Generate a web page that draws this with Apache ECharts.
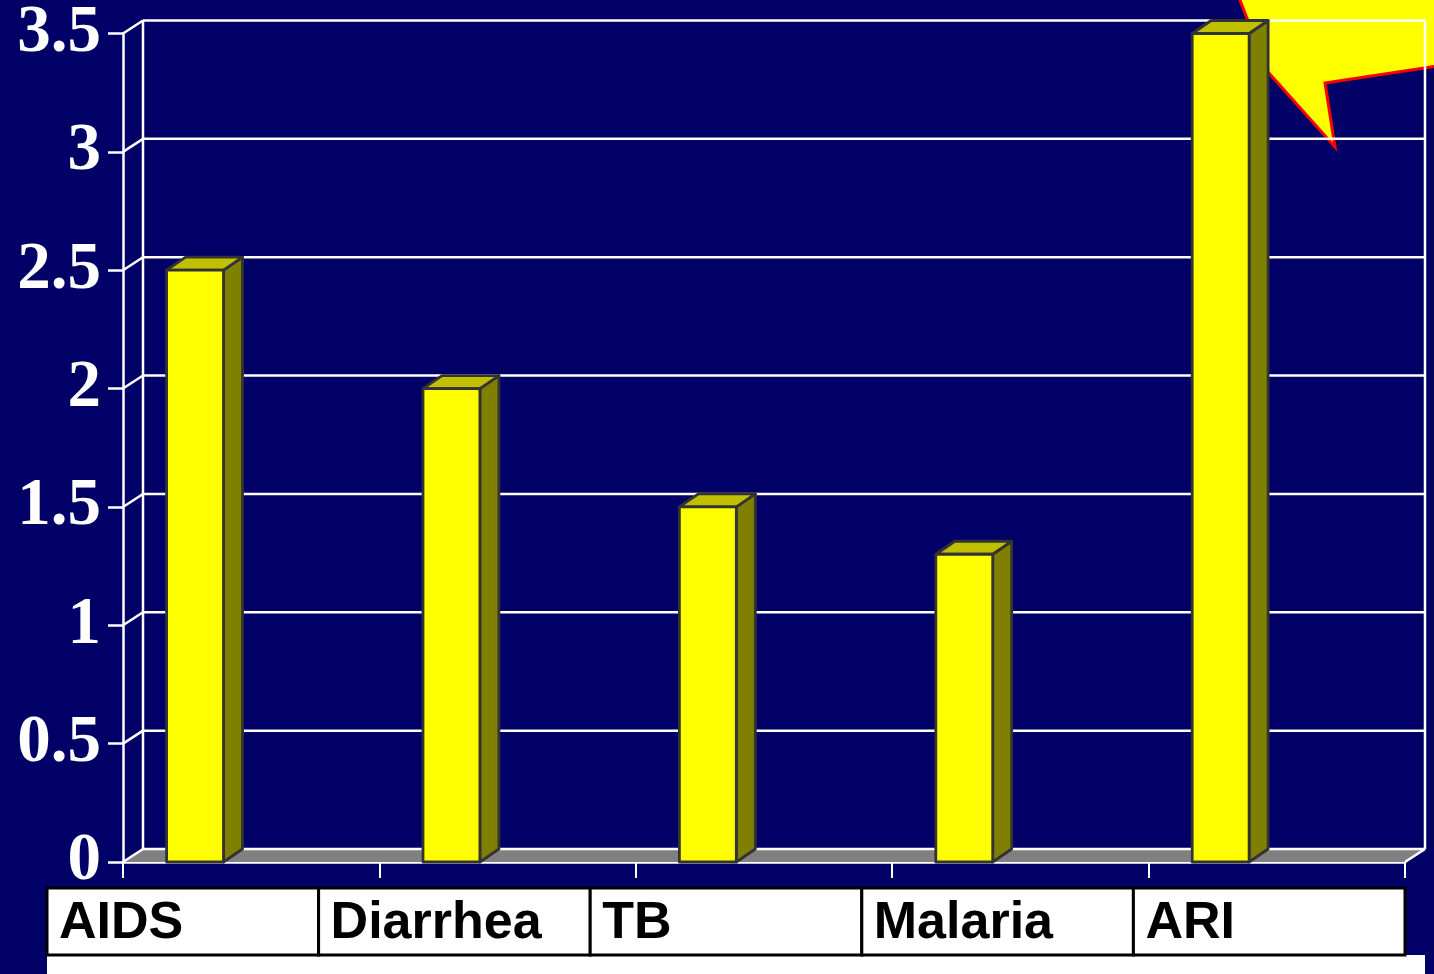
<!DOCTYPE html>
<html>
<head>
<meta charset="utf-8">
<script src="https://cdn.jsdelivr.net/npm/echarts@6/dist/echarts.min.js"></script>
<style>
  html, body { margin: 0; padding: 0; background: #000066; }
  #chart { width: 1434px; height: 974px; }
</style>
</head>
<body>
<div id="chart"></div>
<script>
// Disease categories and their values
const categories = ['AIDS', 'Diarrhea', 'TB', 'Malaria', 'ARI'];
const values = [2.5, 2.0, 1.5, 1.3, 3.5];
const yTicks = [0, 0.5, 1, 1.5, 2, 2.5, 3, 3.5];

// depth of the 3-D box walls and bars
const WALL_DX = 20, WALL_DY = -13;
const BAR_DX = 19, BAR_DY = -13;

const chart = echarts.init(document.getElementById('chart'));

// back wall, gridlines, connectors and floor
function renderWall(params, api) {
  const cs = params.coordSys;
  const v = api.value(1);
  const y = api.coord([0, v])[1];
  const x0 = cs.x, x1 = cs.x + cs.width;
  const white = { stroke: '#ffffff', lineWidth: 2.5 };
  const children = [
    { type: 'line', shape: { x1: x0, y1: y, x2: x0 + WALL_DX, y2: y + WALL_DY }, style: white },
    { type: 'line', shape: { x1: x0 + WALL_DX, y1: y + WALL_DY, x2: x1 + WALL_DX, y2: y + WALL_DY }, style: white }
  ];
  if (v === 0) {
    const yTop = cs.y;
    children.unshift({
      type: 'polygon',
      shape: { points: [[x0, y], [x1, y], [x1 + WALL_DX, y + WALL_DY], [x0 + WALL_DX, y + WALL_DY]] },
      style: { fill: '#808080' }
    });
    children.push(
      { type: 'line', shape: { x1: x0 + WALL_DX, y1: y + WALL_DY, x2: x0 + WALL_DX, y2: yTop + WALL_DY }, style: white },
      { type: 'line', shape: { x1: x1 + WALL_DX, y1: y + WALL_DY, x2: x1 + WALL_DX, y2: yTop + WALL_DY }, style: white },
      { type: 'line', shape: { x1: x1, y1: y, x2: x1 + WALL_DX, y2: y + WALL_DY }, style: white }
    );
  }
  return { type: 'group', children: children };
}

// 3-D bar: front face, side face and top face
function renderBar(params, api) {
  const idx = api.value(0);
  const v = api.value(1);
  const base = api.coord([idx, 0]);
  const top = api.coord([idx, v]);
  const band = api.size([1, 0])[0];
  const left = base[0] - band / 2 + band * 0.17;
  const w = band * 0.222;
  const edge = { stroke: '#333333', lineWidth: 2.8, lineJoin: 'round' };
  return {
    type: 'group',
    children: [
      {
        type: 'polygon',
        shape: { points: [[left + w, top[1]], [left + w + BAR_DX, top[1] + BAR_DY], [left + w + BAR_DX, base[1] + BAR_DY], [left + w, base[1]]] },
        style: Object.assign({ fill: '#808000' }, edge)
      },
      {
        type: 'polygon',
        shape: { points: [[left, top[1]], [left + BAR_DX, top[1] + BAR_DY], [left + w + BAR_DX, top[1] + BAR_DY], [left + w, top[1]]] },
        style: Object.assign({ fill: '#c0c000' }, edge)
      },
      {
        type: 'rect',
        shape: { x: left, y: top[1], width: w, height: base[1] - top[1] },
        style: Object.assign({ fill: '#ffff00' }, edge)
      }
    ]
  };
}

// label table under the plot
const tableLeft = 47, tableRight = 1405, tableTop = 888, tableBottom = 955;
const cellW = (tableRight - tableLeft) / categories.length;
const tableGraphics = [
  { type: 'rect', z: 5, shape: { x: tableLeft, y: tableBottom, width: 1425 - tableLeft, height: 30 }, style: { fill: '#ffffff' } }
];
categories.forEach(function (name, i) {
  tableGraphics.push({
    type: 'rect', z: 6,
    shape: { x: tableLeft + i * cellW, y: tableTop, width: cellW, height: tableBottom - tableTop },
    style: { fill: '#ffffff', stroke: '#000000', lineWidth: 3 }
  });
  tableGraphics.push({
    type: 'text', z: 7,
    x: tableLeft + i * cellW + 12, y: (tableTop + tableBottom) / 2 + 2,
    style: {
      text: name, fill: '#000000',
      font: 'bold 52px "Liberation Sans", Arial, sans-serif',
      textAlign: 'left', textVerticalAlign: 'middle'
    }
  });
});

const option = {
  backgroundColor: '#000066',
  animation: false,
  grid: { left: 123, right: 29, top: 31, bottom: 112 },
  xAxis: {
    type: 'category',
    data: categories,
    boundaryGap: true,
    axisLine: { show: true, lineStyle: { color: '#ffffff', width: 2.5 } },
    axisTick: { show: true, length: 16, lineStyle: { color: '#ffffff', width: 2 } },
    axisLabel: { show: false },
    splitLine: { show: false }
  },
  yAxis: {
    type: 'value',
    min: 0, max: 3.5, interval: 0.5,
    axisLine: { show: true, lineStyle: { color: '#ffffff', width: 2.5 } },
    axisTick: { show: true, length: 15, lineStyle: { color: '#ffffff', width: 2.5 } },
    axisLabel: {
      color: '#ffffff', fontFamily: '"Liberation Serif", "Times New Roman", serif',
      fontWeight: 'bold', fontSize: 67, margin: 22
    },
    splitLine: { show: false }
  },
  graphic: [
    {
      type: 'polygon', z: -10,
      shape: { points: [[1236, -10], [1268, 72], [1335, 147], [1325, 83], [1450, 64], [1450, -10]] },
      style: { fill: '#ffff00', stroke: '#ff0000', lineWidth: 3 }
    }
  ].concat(tableGraphics),
  series: [
    {
      type: 'custom', name: 'wall', z: 1, clip: false, silent: true,
      renderItem: renderWall,
      encode: { x: 0, y: 1 },
      data: yTicks.map(function (v) { return [0, v]; })
    },
    {
      type: 'custom', name: 'bars', z: 3, clip: false,
      renderItem: renderBar,
      encode: { x: 0, y: 1 },
      data: values.map(function (v, i) { return [i, v]; })
    }
  ]
};

chart.setOption(option);
</script>
</body>
</html>
